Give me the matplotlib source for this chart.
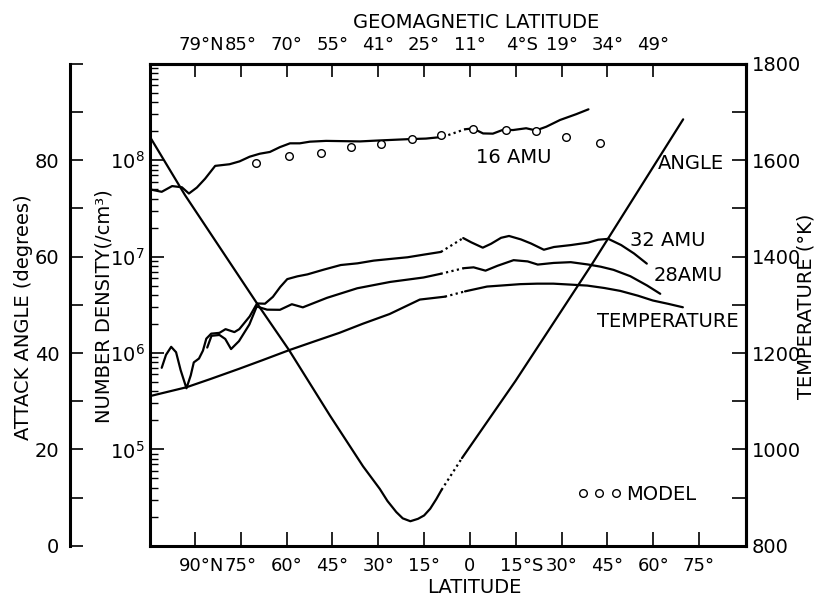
import numpy as np
import matplotlib
matplotlib.use("Agg")
import matplotlib.pyplot as plt
from matplotlib.lines import Line2D
from matplotlib.ticker import FixedLocator, LogLocator, NullFormatter

plt.rcParams["font.family"] = ["DejaVu Sans"]

# x is position along the orbit in degrees, counted from 90N
lat_ticks = [0, 15, 30, 45, 60, 75, 90, 105, 120, 135, 150, 165]
lat_labels = ["90°N", "75°", "60°", "45°", "30°", "15°", "0", "15°S", "30°", "45°", "60°", "75°"]
geomag_ticks = [0, 15, 30, 45, 60, 75, 90, 105, 120, 135, 150]
geomag_labels = ["79°N", "85°", "70°", "55°", "41°", "25°", "11°", "4°S", "19°", "34°", "49°"]

# 16 AMU (/cm3)
u16 = [-14.5, -10.9, -7.5, -4.3, -2.0, 0.6, 3.3, 6.6, 11.3, 14.6, 17.9, 21.2, 24.5, 27.8,
       31.1, 34.3, 37.6, 42.9, 48.4, 54.0, 59.2, 64.8, 70.4, 75.6, 81.2, 88.4, 91.0, 94.3,
       97.5, 100.8, 104.1, 108.4, 111.6, 115.0, 119.5, 124.8, 128.8]
n16 = [4.97e7, 4.71e7, 5.40e7, 5.25e7, 4.52e7, 5.21e7, 6.44e7, 8.75e7, 9.10e7, 9.75e7,
       1.09e8, 1.17e8, 1.22e8, 1.37e8, 1.50e8, 1.50e8, 1.56e8, 1.59e8, 1.58e8, 1.57e8,
       1.60e8, 1.63e8, 1.66e8, 1.68e8, 1.75e8, 2.10e8, 2.14e8, 1.90e8, 1.89e8, 2.07e8,
       2.06e8, 2.15e8, 2.04e8, 2.23e8, 2.62e8, 3.01e8, 3.38e8]

# model values for 16 AMU
u_model = [20.1, 30.9, 41.1, 51.0, 60.8, 71.0, 80.6, 91.0, 101.8, 111.6, 121.5, 132.5]
n_model = [9.3e7, 1.10e8, 1.18e8, 1.37e8, 1.46e8, 1.65e8, 1.81e8, 2.13e8, 2.05e8, 1.99e8,
           1.75e8, 1.52e8]

# 32 AMU
u32 = [-10.9, -9.5, -7.8, -6.2, -4.7, -2.8, -1.4, -0.4, 1.3, 2.6, 3.7, 5.3, 8.0, 10.0,
       12.9, 14.5, 17.9, 20.3, 22.9, 25.5, 27.9, 30.2, 33.5, 36.8, 42.1, 47.7, 53.2, 58.5,
       64.1, 69.6, 74.9, 80.5, 87.8, 90.4, 94.2, 96.9, 100.2, 102.8, 106.7, 110.0, 114.2,
       117.5, 123.1, 128.7, 132.0, 135.3, 139.5, 143.7, 147.9]
n32 = [7.03e5, 9.57e5, 1.16e6, 1.02e6, 6.64e5, 4.31e5, 5.86e5, 8.00e5, 8.77e5, 1.06e6,
       1.41e6, 1.59e6, 1.62e6, 1.77e6, 1.65e6, 1.77e6, 2.40e6, 3.27e6, 3.25e6, 3.83e6,
       4.85e6, 5.85e6, 6.25e6, 6.55e6, 7.33e6, 8.19e6, 8.53e6, 9.10e6, 9.48e6, 9.86e6,
       1.05e7, 1.12e7, 1.56e7, 1.41e7, 1.24e7, 1.36e7, 1.57e7, 1.64e7, 1.51e7, 1.37e7,
       1.18e7, 1.26e7, 1.32e7, 1.40e7, 1.50e7, 1.53e7, 1.32e7, 1.08e7, 8.47e6]

# 28 AMU
u28 = [4.0, 5.4, 8.0, 9.9, 11.8, 14.4, 17.8, 20.2, 23.6, 27.8, 31.7, 35.3, 43.2, 53.1,
       63.9, 74.8, 80.4, 87.9, 91.2, 95.1, 99.0, 104.3, 108.9, 112.2, 117.4, 123.0, 128.6,
       132.8, 137.0, 142.5, 148.0, 152.3]
n28 = [1.14e6, 1.51e6, 1.54e6, 1.40e6, 1.10e6, 1.33e6, 1.98e6, 3.04e6, 2.82e6, 2.81e6,
       3.21e6, 2.98e6, 3.74e6, 4.70e6, 5.47e6, 6.08e6, 6.64e6, 7.59e6, 7.75e6, 7.16e6,
       8.04e6, 9.20e6, 8.93e6, 8.28e6, 8.61e6, 8.77e6, 8.30e6, 7.87e6, 7.30e6, 6.27e6,
       5.02e6, 4.12e6]

# temperature (K)
u_temp = [-14.5, -2.8, 5.0, 14.3, 22.0, 30.8, 39.0, 47.3, 55.0, 63.7, 73.6, 81.8, 88.4,
          95.6, 100.0, 106.5, 112.0, 117.3, 123.0, 128.4, 134.0, 139.2, 145.0, 149.9, 155.0,
          159.7]
temp = [1111, 1129, 1146, 1167, 1185, 1206, 1224, 1242, 1261, 1281, 1311, 1317, 1328, 1338,
        1340, 1343, 1344, 1344, 1342, 1340, 1335, 1329, 1319, 1309, 1302, 1295]

# attack angle (degrees)
u_angle = [-14.5, -3.3, 20.3, 30.8, 44.2, 55.0, 60.5, 63.0, 65.9, 68.0, 70.5, 73.0, 75.0,
           77.0, 79.0, 80.7, 87.4, 104.9, 130.0, 159.8]
angle = [84.6, 72.8, 50.3, 40.6, 27.0, 16.5, 11.8, 9.3, 7.0, 5.7, 5.1, 5.6, 6.3, 7.7, 9.7,
         11.6, 18.2, 34.2, 58.5, 88.5]

GAP = (82, 87)  # missing data, drawn dotted
LW = 1.6


def draw_curve(a, u, v):
    u = np.asarray(u)
    v = np.asarray(v, dtype=float)
    pre = u <= GAP[0]
    post = u >= GAP[1]
    kw = dict(color="black", lw=LW, solid_joinstyle="round", solid_capstyle="round")
    a.plot(u[pre], v[pre], "-", **kw)
    a.plot(u[post], v[post], "-", **kw)
    if pre.any() and post.any():
        i0 = np.where(pre)[0][-1]
        i1 = np.where(post)[0][0]
        a.plot(u[i0:i1 + 1], v[i0:i1 + 1], color="black", lw=LW, ls=(0, (1, 1.5)))


fig = plt.figure(figsize=(8.17, 5.99), dpi=100)
ax = fig.add_axes([0.1841, 0.0888, 0.7291, 0.8045])
ax.set_yscale("log")
ax.set_xlim(-14.6, 180.4)
ax.set_ylim(1e4, 1e9)

ax_t = ax.twinx()
ax_t.set_ylim(800, 1800)
ax_a = ax.twinx()
ax_a.set_ylim(0, 100)

# density curves
draw_curve(ax, u16, n16)
draw_curve(ax, u32, n32)
draw_curve(ax, u28, n28)
ax.plot(u_model, n_model, ls="none", marker="o", ms=5.5, mfc="white", mec="black", mew=1.0)
draw_curve(ax_t, u_temp, temp)
draw_curve(ax_a, u_angle, angle)

# frame
for s in ax.spines.values():
    s.set_linewidth(2.2)
for name, s in ax_t.spines.items():
    s.set_visible(name == "right")
    s.set_linewidth(2.2)
for name, s in ax_a.spines.items():
    s.set_visible(name == "left")
    s.set_linewidth(2.2)

# density axis
ax.yaxis.set_major_locator(FixedLocator([1e5, 1e6, 1e7, 1e8]))
ax.set_yticklabels([r"$\mathregular{10^{%d}}$" % e for e in (5, 6, 7, 8)])
ax.yaxis.set_minor_locator(LogLocator(base=10, subs=range(2, 10)))
ax.yaxis.set_minor_formatter(NullFormatter())
ax.tick_params(axis="y", which="major", direction="in", length=10, width=1.2, pad=4,
               labelsize=14)
ax.tick_params(axis="y", which="minor", direction="in", length=5.5, width=1.0)


def suffix_labels(ticks, labels, top):
    # N/S labels: number sits over the tick, letter hangs to the right
    shown = []
    for t, lab in zip(ticks, labels):
        if lab[-1] in "NS":
            shown.append("")
            ax.annotate(lab, xy=(t, 1 if top else 0), xycoords=("data", "axes fraction"),
                        xytext=(4.5, 7 if top else -8), textcoords="offset points",
                        ha="center", va="bottom" if top else "top", fontsize=13)
        else:
            shown.append(lab)
    return shown


# latitude axis
ax.set_xticks(lat_ticks, labels=suffix_labels(lat_ticks, lat_labels, False))
ax.tick_params(axis="x", direction="in", length=10, width=1.2, pad=8, labelsize=13)

# geomagnetic latitude axis
ax_top = ax.secondary_xaxis("top")
ax_top.set_xticks(geomag_ticks, labels=suffix_labels(geomag_ticks, geomag_labels, True))
ax_top.tick_params(direction="in", length=9, width=1.2, pad=7, labelsize=13)
ax_top.spines["top"].set_linewidth(2.2)

# temperature axis
ax_t.set_yticks(range(800, 1801, 100),
                labels=[str(v) if v % 200 == 0 else "" for v in range(800, 1801, 100)])
ax_t.tick_params(axis="y", direction="in", length=10, width=1.2, pad=4, labelsize=14)

# attack angle axis, offset to the left
ax_a.yaxis.tick_left()
ax_a.spines["left"].set_position(("outward", 57.6))
ax_a.spines["left"].set_bounds(0, 100)
ax_a.set_yticks(range(0, 101, 10),
                labels=[str(v) if v % 20 == 0 and v < 100 else "" for v in range(0, 101, 10)])
ax_a.tick_params(axis="y", direction="in", length=9, width=1.2, pad=8, labelsize=14)

# axis titles
fig.text(0.583, 0.963, "GEOMAGNETIC LATITUDE", ha="center", va="center", fontsize=14)
fig.text(0.581, 0.019, "LATITUDE", ha="center", va="center", fontsize=14)
fig.text(0.029, 0.470, "ATTACK ANGLE (degrees)", rotation=90, ha="center", va="center",
         fontsize=14)
fig.text(0.127, 0.489, "NUMBER DENSITY(/cm³)", rotation=90, ha="center", va="center",
         fontsize=14)
fig.text(0.986, 0.489, "TEMPERATURE (°K)", rotation=90, ha="center", va="center",
         fontsize=14)

# curve labels
for txt, x, y in [("16 AMU", 0.610, 0.805), ("ANGLE", 0.907, 0.794),
                  ("32 AMU", 0.868, 0.633), ("28AMU", 0.903, 0.561),
                  ("TEMPERATURE", 0.869, 0.465)]:
    ax_a.text(x, y, txt, transform=ax.transAxes, ha="center", va="center", fontsize=14)

model_handle = Line2D([], [], ls="none", marker="o", ms=5.5, mfc="white", mec="black", mew=1.0)
ax_a.legend([model_handle], ["MODEL"], numpoints=3, frameon=False, loc="center",
            bbox_to_anchor=(0.816, 0.107), bbox_transform=ax.transAxes,
            handlelength=2.3, handletextpad=0.2, fontsize=14)

fig.savefig("out.png", dpi=100)
